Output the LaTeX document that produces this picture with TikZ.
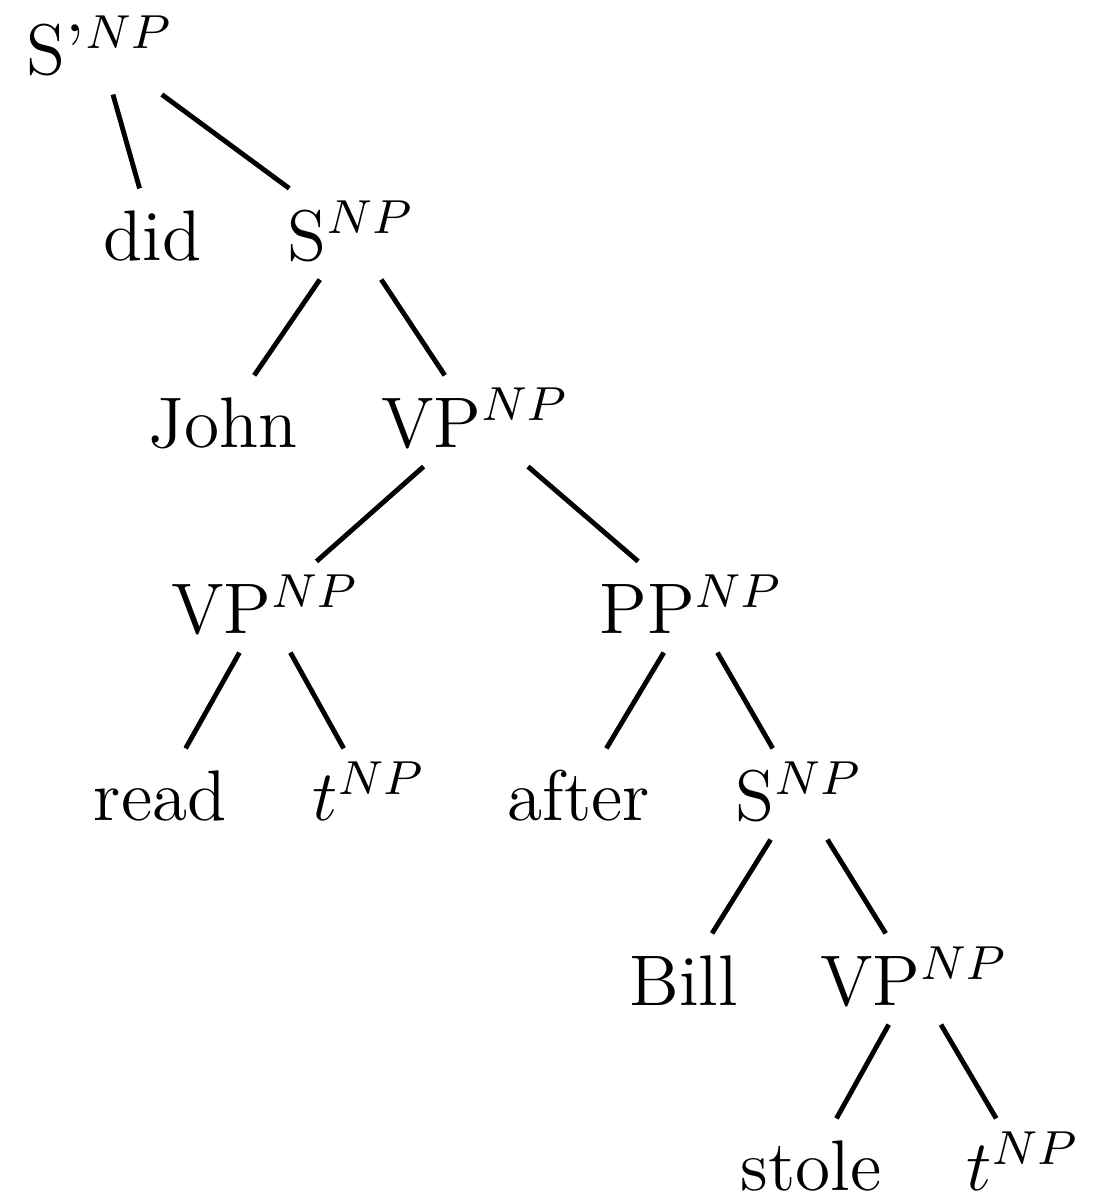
\documentclass[12pt,tikz,border=0pt]{standalone}
\usepackage{tikz}

\newcommand{\np}{$^{NP}$}

\begin{document}
\begin{tikzpicture}[x=0.16744pt,y=-0.16744pt,scale=1.72,-]
                \tikzstyle{cat}=[transform shape,anchor=base,text height=10.47pt,text depth=1.74pt,inner xsep=1.8pt,inner ysep=1.33pt]
                \useasboundingbox (0,0) rectangle (1099,1198);
                \foreach \nm/\x/\y/\lab in {sbar/100/75/{S'\np}, did/152.5/260/did, S-1/351/260/{S\np},
                        john/223/447/John, VP-1/475/447/{VP\np}, VP-2/265/633/{VP\np}, PP/691/633/{PP\np},
                        read/160/820/read, t-1/369/820/{$t$\np}, after/579/820/after, S-2/799/820/{S\np},
                        bill/683.5/1005/Bill, VP-3/914/1005/{VP\np}, stole/811/1190/stole, t-2/1023/1190/{$t$\np}}
                        \node[cat] (\nm) at (\x,\y) {\lab};

                    \foreach \from/\to in {sbar/did, sbar/S-1, S-1/john, S-1/VP-1, VP-1/VP-2, VP-1/PP,
                                           VP-2/read, VP-2/t-1, PP/after, PP/S-2, S-2/bill, S-2/VP-3,
                                           VP-3/stole, VP-3/t-2}
                        \draw[line width=1.4pt] (\from) -- (\to);
            \end{tikzpicture}
\end{document}
